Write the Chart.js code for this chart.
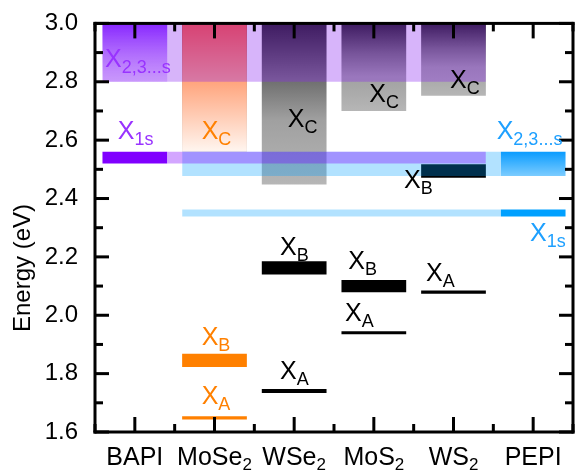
<!DOCTYPE html>
<html>
<head>
<meta charset="utf-8">
<script src="https://cdn.jsdelivr.net/npm/chart.js@4/dist/chart.umd.min.js"></script>
<style>
  body { margin: 0; background: #fff; }
  #wrap { width: 575px; height: 476px; }
</style>
</head>
<body>
<div id="wrap"><canvas id="energyChart"></canvas></div>
<script>
// categories (main text + subscript)
const categories = ['BAPI', 'MoSe2', 'WSe2', 'MoS2', 'WS2', 'PEPI'];
const catMain = ['BAPI', 'MoSe', 'WSe', 'MoS', 'WS', 'PEPI'];
const catSub = ['', '2', '2', '2', '2', ''];

// TMD exciton energies (eV), [low, high]
const excitonA = [null, [1.643, 1.654], [1.734, 1.747], [1.935, 1.945], [2.074, 2.085], null];
const excitonB = [null, [1.823, 1.868], [2.140, 2.185], [2.079, 2.121], [2.471, 2.517], null];
const excitonC = [null, [2.560, 3.000], [2.448, 3.000], [2.700, 3.000], [2.752, 3.000], null];

// perovskite excitons (eV)
const bapi1s = [2.520, 2.560];
const bapiHigh = [2.800, 3.000];
const pepi1s = [2.338, 2.362];
const pepiHigh = [2.477, 2.560];

// y axis
const yMin = 1.6;
const yMax = 3.0;

// labels: text, subscript, x in category units, y = baseline energy
const annotations = [
    { t: 'X', s: '2,3...s', x: -0.374, y: 2.849, c: '#9933ff' },
    { t: 'X', s: '1s', x: -0.215, y: 2.603, c: '#9933ff' },
    { t: 'X', s: 'C', x: 0.839, y: 2.603, c: '#ff8000' },
    { t: 'X', s: 'B', x: 0.839, y: 1.898, c: '#ff8000' },
    { t: 'X', s: 'A', x: 0.839, y: 1.696, c: '#ff8000' },
    { t: 'X', s: 'C', x: 1.919, y: 2.645, c: '#000' },
    { t: 'X', s: 'B', x: 1.822, y: 2.205, c: '#000' },
    { t: 'X', s: 'A', x: 1.822, y: 1.780, c: '#000' },
    { t: 'X', s: 'C', x: 2.943, y: 2.731, c: '#000' },
    { t: 'X', s: 'B', x: 2.679, y: 2.157, c: '#000' },
    { t: 'X', s: 'A', x: 2.638, y: 1.980, c: '#000' },
    { t: 'X', s: 'C', x: 3.956, y: 2.778, c: '#000' },
    { t: 'X', s: 'B', x: 3.379, y: 2.437, c: '#000' },
    { t: 'X', s: 'A', x: 3.655, y: 2.116, c: '#000' },
    { t: 'X', s: '2,3...s', x: 4.542, y: 2.603, c: '#1ea0ff' },
    { t: 'X', s: '1s', x: 4.960, y: 2.255, c: '#1ea0ff' }
];

const FONT = "'Liberation Sans', Arial, sans-serif";
const BAR_PCT = 0.8125;
const HW = BAR_PCT / 2;

function onlyAt(idx, val) {
    return categories.map((c, i) => i === idx ? val : null);
}

// gradient helper for floating bars
function barGradient(stops, fallback) {
    return function (ctx) {
        if (ctx.type !== 'data' || !ctx.raw) return fallback;
        const ys = ctx.chart.scales.y;
        if (!ys) return fallback;
        const top = ys.getPixelForValue(ctx.raw[1]);
        const bot = ys.getPixelForValue(ctx.raw[0]);
        if (!isFinite(top) || !isFinite(bot) || top === bot) return fallback;
        const g = ctx.chart.ctx.createLinearGradient(0, top, 0, bot);
        stops.forEach(p => g.addColorStop(p[0], p[1]));
        return g;
    };
}

const grayStops = [[0, '#151515'], [0.35, '#6e6e6e'], [0.6, '#a0a0a0'], [1, '#b6b6b6']];
const orangeStops = [[0, '#ff5030'], [0.45, '#ffa47c'], [1, '#fff6f0']];

function band(x0, x1, range, color, order) {
    return {
        type: 'line',
        xAxisID: 'x2',
        data: [{ x: x0, y: range[1] }, { x: x1, y: range[1] }],
        fill: { value: range[0] },
        backgroundColor: color,
        borderWidth: 0,
        borderColor: 'rgba(0,0,0,0)',
        pointRadius: 0,
        order: order
    };
}

function barSet(data, color, order) {
    return {
        type: 'bar',
        data: data,
        backgroundColor: color,
        borderWidth: 0,
        borderSkipped: false,
        grouped: false,
        barPercentage: BAR_PCT,
        categoryPercentage: 1,
        order: order
    };
}

// frame, inward ticks, category labels, y title and exciton labels
const decorPlugin = {
    id: 'decor',
    afterDraw(chart) {
        const c = chart.ctx;
        const a = chart.chartArea;
        const ys = chart.scales.y;
        const xs = chart.scales.x2;
        const lw = 3;
        c.save();
        c.fillStyle = '#000';
        // frame
        c.fillRect(a.left - lw / 2, a.top - lw / 2, a.right - a.left + lw, lw);
        c.fillRect(a.left - lw / 2, a.bottom - lw / 2, a.right - a.left + lw, lw);
        c.fillRect(a.left - lw / 2, a.top - lw / 2, lw, a.bottom - a.top + lw);
        c.fillRect(a.right - lw / 2, a.top - lw / 2, lw, a.bottom - a.top + lw);

        // inward ticks, left/right
        for (let k = 0; k <= 14; k++) {
            const y = ys.getPixelForValue(yMin + k * 0.1);
            const len = k % 2 === 0 ? 14 : 8;
            c.fillRect(a.left, y - lw / 2, len, lw);
            c.fillRect(a.right - len, y - lw / 2, len, lw);
        }
        // inward ticks, bottom/top
        for (let k = 0; k <= 12; k++) {
            const x = xs.getPixelForValue(-0.5 + k * 0.5);
            const len = k % 2 === 1 ? 15 : 8;
            c.fillRect(x - lw / 2, a.bottom - len, lw, len);
            c.fillRect(x - lw / 2, a.top, lw, len);
        }

        // category labels
        c.textBaseline = 'alphabetic';
        categories.forEach((cat, i) => {
            c.font = '25px ' + FONT;
            const w1 = c.measureText(catMain[i]).width;
            c.font = '17px ' + FONT;
            const w2 = catSub[i] ? c.measureText(catSub[i]).width : 0;
            const x0 = xs.getPixelForValue(i) - (w1 + w2) / 2;
            c.font = '25px ' + FONT;
            c.textAlign = 'left';
            c.fillText(catMain[i], x0, 465);
            if (catSub[i]) {
                c.font = '17px ' + FONT;
                c.fillText(catSub[i], x0 + w1, 470);
            }
        });

        // y axis title
        c.save();
        c.translate(30, 268);
        c.rotate(-Math.PI / 2);
        c.textAlign = 'center';
        c.font = '24px ' + FONT;
        c.fillText('Energy (eV)', 0, 0);
        c.restore();

        // exciton labels
        annotations.forEach(l => {
            const x = xs.getPixelForValue(l.x);
            const y = ys.getPixelForValue(l.y);
            c.fillStyle = l.c;
            c.textAlign = 'left';
            c.font = '25px ' + FONT;
            c.fillText(l.t, x, y);
            const w = c.measureText(l.t).width;
            c.font = '18px ' + FONT;
            c.fillText(l.s, x + w, y + 6);
        });
        c.restore();
    }
};

const ctxEnergy = document.getElementById('energyChart').getContext('2d');
const energyChart = new Chart(ctxEnergy, {
    type: 'bar',
    data: {
        labels: categories,
        datasets: [
            // TMD bars, drawn first (under the translucent bands)
            barSet(excitonC, barGradient(grayStops, '#888'), 10),
            barSet(onlyAt(1, excitonC[1]), barGradient(orangeStops, '#ffa47c'), 9),
            barSet(excitonB, ['#000', '#ff8000', '#000', '#000', '#000', '#000'], 9),
            barSet(excitonA, ['#000', '#ff8000', '#000', '#000', '#000', '#000'], 9),
            // translucent bands running across the TMD columns
            band(1 - HW, 5 - HW, pepiHigh, 'rgba(0, 160, 255, 0.3)', 5),
            band(1 - HW, 5 - HW, pepi1s, 'rgba(0, 160, 255, 0.3)', 5),
            band(0 - HW, 4 + HW, bapiHigh, 'rgba(140, 40, 240, 0.35)', 4),
            band(0 + HW, 4 + HW, bapi1s, 'rgba(128, 0, 255, 0.35)', 4),
            // perovskite columns
            barSet(onlyAt(0, bapiHigh), barGradient([[0, 'rgba(130, 30, 255, 0.95)'], [1, 'rgba(175, 100, 255, 0.35)']], '#b070ff'), 3),
            barSet(onlyAt(0, bapi1s), '#8000ff', 2),
            barSet(onlyAt(5, pepiHigh), barGradient([[0, '#0a9cff'], [1, '#7cccff']], '#40b0ff'), 2),
            barSet(onlyAt(5, pepi1s), '#00a0ff', 2)
        ]
    },
    options: {
        responsive: true,
        maintainAspectRatio: false,
        animation: false,
        layout: {
            padding: { top: 15, right: 2, left: 0, bottom: 0 }
        },
        scales: {
            x: {
                type: 'category',
                offset: true,
                grid: { display: false },
                border: { display: false },
                ticks: { display: false },
                afterFit: s => { s.height = 44; }
            },
            x2: {
                type: 'linear',
                position: 'bottom',
                offset: false,
                min: -0.5,
                max: 5.5,
                grid: { display: false, offset: false },
                border: { display: false },
                ticks: { display: false },
                afterFit: s => { s.height = 0; }
            },
            y: {
                min: yMin,
                max: yMax,
                grid: { display: false },
                border: { display: false },
                ticks: {
                    stepSize: 0.2,
                    color: '#000',
                    padding: 9,
                    font: { family: FONT, size: 24 },
                    callback: v => Number(v).toFixed(1)
                },
                afterFit: s => { s.width = 95; }
            }
        },
        plugins: {
            legend: { display: false },
            tooltip: { enabled: false }
        }
    },
    plugins: [decorPlugin]
});
</script>
</body>
</html>
